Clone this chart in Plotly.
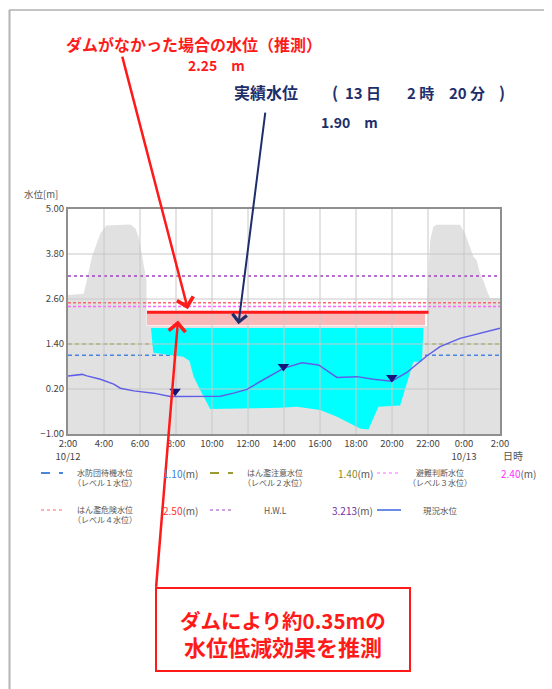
import plotly.graph_objects as go

OFF = 8  # browser body margin
W, H = 552 - OFF, 689 - OFF
ML, MT = 68 - OFF, 209 - OFF
PW, PH = 432, 225
MR = W - ML - PW
MB = H - MT - PH


def px(X):
    return (X - OFF - ML) / PW


def py(Y):
    return (H - MB - (Y - OFF)) / PH


FONT = "Noto Sans CJK JP"

# ---------------- data ----------------
x_ticks = [2, 4, 6, 8, 10, 12, 14, 16, 18, 20, 22, 24, 26]
x_tick_labels = ["2:00<br>10/12", "4:00", "6:00", "8:00", "10:00", "12:00", "14:00",
                 "16:00", "18:00", "20:00", "22:00", "0:00<br>10/13", "2:00"]
y_ticks = [-1.0, 0.2, 1.4, 2.6, 3.8, 5.0]

threshold_names = ["水防団待機水位", "はん濫注意水位", "避難判断水位", "はん濫危険水位", "H.W.L"]
threshold_sub = ["（レベル１水位）", "（レベル２水位）", "（レベル３水位）", "（レベル４水位）", ""]
threshold_values = [1.10, 1.40, 2.40, 2.50, 3.213]
threshold_labels = ["1.10", "1.40", "2.40", "2.50", "3.213"]

# current water level (hours from 10/12 0:00)
level_hours = [2.0, 2.31, 2.78, 3.05, 3.8, 4.54, 4.91, 5.65, 6.76, 7.68, 8.24, 8.61, 9.9,
               10.46, 11.2, 11.94, 12.68, 13.97, 14.99, 15.92, 16.94, 18.05, 18.97, 19.99,
               20.82, 21.93, 22.67, 23.78, 26.0]
level_values = [0.55, 0.56, 0.59, 0.55, 0.46, 0.33, 0.22, 0.15, 0.09, 0.0, 0.0, 0.01, 0.0,
                0.01, 0.09, 0.19, 0.40, 0.75, 0.90, 0.84, 0.51, 0.53, 0.46, 0.41,
                0.64, 1.08, 1.33, 1.55, 1.82]

marker_hours = [7.95, 13.97, 19.99]
marker_values = [0.14, 0.80, 0.51]

# grey background region
gray_hours = [2.0, 2.87, 3.05, 3.33, 3.8, 4.13, 5.46, 5.74, 5.92, 6.2, 6.36, 6.37, 21.95,
              21.95, 22.12, 22.3, 22.48, 23.78, 24.06, 24.52, 24.7, 24.89, 25.07, 25.26,
              25.45, 26.0, 26.0, 2.0, 2.0]
gray_values = [2.71, 2.74, 3.11, 3.73, 4.35, 4.56, 4.59, 4.49, 4.26, 3.55, 3.1, 1.88, 1.88,
               2.57, 4.17, 4.53, 4.58, 4.58, 4.35, 3.73, 3.64, 3.28, 3.1, 2.84,
               2.62, 2.62, -1.0, -1.0, 2.71]

# cyan region
cyan_hours = [6.61, 21.75, 21.66, 21.19, 20.45, 19.25, 18.69, 18.23, 17.68, 16.94, 16.01,
              14.72, 13.8, 9.9, 9.35, 8.98, 8.75, 8.4, 6.74, 6.61]
cyan_values = [1.83, 1.83, 0.93, 0.93, -0.24, -0.27, -0.88, -0.85, -0.72, -0.54, -0.36,
               -0.27, -0.30, -0.33, 0.17, 0.53, 0.95, 1.06, 1.17, 1.83]

band_hours = [6.39, 21.84]
red_line_hours = [6.39, 22.03]
estimated_level = 2.25
actual_level = 1.90

# ---------------- styles ----------------
th_colors = ["#4a84dc", "#9a9a30", "#ff66ff", "#ff6666", "#a040c0"]
th_value_colors = ["#3a7ee0", "#8a8a20", "#ff33ff", "#ff3333", "#7030a0"]
th_dash = ["4px,3px", "4px,3px", "3px,2px", "3px,2px", "3px,3px"]
LEVEL_COLOR = "#5f5fe6"

fig = go.Figure()

fig.add_trace(go.Scatter(x=gray_hours, y=gray_values, fill="toself", fillcolor="#e1e1e1",
                         mode="lines", line=dict(width=0), hoverinfo="skip"))

for v, c, d in zip(threshold_values, th_colors, th_dash):
    fig.add_trace(go.Scatter(x=[x_ticks[0], x_ticks[-1]], y=[v, v], mode="lines",
                             line=dict(color=c, width=1.5, dash=d), hoverinfo="skip"))

fig.add_trace(go.Scatter(x=cyan_hours, y=cyan_values, fill="toself", fillcolor="#00ffff",
                         mode="lines", line=dict(width=0), hoverinfo="skip"))

fig.add_trace(go.Scatter(x=[band_hours[0], band_hours[1], band_hours[1], band_hours[0], band_hours[0]],
                         y=[actual_level, actual_level, estimated_level, estimated_level, actual_level],
                         fill="toself", fillcolor="#f9b9b9", mode="lines", line=dict(width=0),
                         hoverinfo="skip"))

# gridlines drawn over the filled regions
gx, gy = [], []
for t in x_ticks[1:-1]:
    gx += [t, t, None]
    gy += [y_ticks[0], y_ticks[-1], None]
for v in y_ticks[1:-1]:
    gx += [x_ticks[0], x_ticks[-1], None]
    gy += [v, v, None]
fig.add_trace(go.Scatter(x=gx, y=gy, mode="lines", line=dict(color="#c8c8c8", width=1),
                         hoverinfo="skip"))

fig.add_trace(go.Scatter(x=red_line_hours, y=[estimated_level, estimated_level], mode="lines",
                         line=dict(color="#ff1a1a", width=3), hoverinfo="skip"))

fig.add_trace(go.Scatter(x=level_hours, y=level_values, mode="lines",
                         line=dict(color=LEVEL_COLOR, width=1.5), hoverinfo="skip"))

fig.add_trace(go.Scatter(x=marker_hours, y=marker_values, mode="markers",
                         marker=dict(symbol="triangle-down", size=10, color="#14147a"),
                         hoverinfo="skip"))

# ---------------- annotations ----------------
ann = []
shapes = []


def text(X, Y, s, size, color, anchor="center", bold=False):
    ann.append(dict(xref="paper", yref="paper", x=px(X), y=py(Y), xanchor=anchor, yanchor="middle",
                    text=("<b>%s</b>" % s) if bold else s, showarrow=False,
                    font=dict(family=FONT, size=size, color=color)))


text(22, 194.5, "水位[m]", 9.5, "#555", anchor="left")
text(513, 455, "日時", 10, "#555")

RED = "#ff1a1a"
NAVY = "#1e2e6b"
text(194, 43.5, "ダムがなかった場合の水位（推測）", 16, RED, bold=True)
text(216, 65, "%.2f　m" % estimated_level, 14, RED, bold=True)
text(232, 92, "実績水位", 16, NAVY, anchor="left", bold=True)
text(335, 92, "(", 16, NAVY, bold=True)
text(362.5, 92, "13 日", 15, NAVY, bold=True)
text(420, 92, "2 時", 15, NAVY, bold=True)
text(466.5, 92, "20 分", 15, NAVY, bold=True)
text(502, 92, ")", 16, NAVY, bold=True)
text(349.5, 121.5, "%.2f　m" % actual_level, 14, NAVY, bold=True)

# arrows
ann.append(dict(xref="x", yref="y", x=8.66, y=2.33, ax=-66, ay=-254, axref="pixel", ayref="pixel",
                text="", showarrow=True, arrowhead=4, arrowsize=1.3, arrowwidth=2.5, arrowcolor=RED,
                standoff=0, startstandoff=0))
ann.append(dict(xref="x", yref="y", x=11.47, y=1.93, ax=27, ay=-213, axref="pixel", ayref="pixel",
                text="", showarrow=True, arrowhead=4, arrowsize=1.4, arrowwidth=2, arrowcolor=NAVY,
                standoff=0, startstandoff=0))
ann.append(dict(xref="x", yref="y", x=8.11, y=2.03, ax=-22, ay=268, axref="pixel", ayref="pixel",
                text="", showarrow=True, arrowhead=4, arrowsize=1.3, arrowwidth=2.5, arrowcolor=RED,
                standoff=0, startstandoff=0))

# callout box
shapes.append(dict(type="rect", xref="paper", yref="paper", x0=px(156), x1=px(410), y0=py(671), y1=py(588),
                   line=dict(color=RED, width=2), fillcolor="white", layer="above"))
text(282.5, 633, 'ダムにより約0.35mの<br><span style="font-size:22px">水位低減効果を推測</span>',
     20.5, RED, bold=True)

# outer frame
shapes.append(dict(type="line", xref="paper", yref="paper", x0=px(9), x1=px(560), y0=py(10), y1=py(10),
                   line=dict(color="#c4c4c4", width=2)))
shapes.append(dict(type="line", xref="paper", yref="paper", x0=px(9.5), x1=px(9.5), y0=py(10), y1=py(700),
                   line=dict(color="#b4b4b4", width=2)))

# custom legend
sample_x = [(41, 63), (210, 233), (377, 401)]
label_cx = [105, 275, 440]
value_right = [200, 375, 538]
row_y = [473, 510]
legend_slots = [(0, 0), (1, 0), (2, 0), (0, 1), (1, 1)]
sample_dash = ["dash", "dash", "dot", "dot", "dot"]
sample_width = [2, 2, 1.2, 1.2, 1.2]
GRAY = "#555555"
for i, (c, r) in enumerate(legend_slots):
    yy = row_y[r]
    shapes.append(dict(type="line", xref="paper", yref="paper", x0=px(sample_x[c][0]), x1=px(sample_x[c][1]),
                       y0=py(yy), y1=py(yy), line=dict(color=th_colors[i], width=sample_width[i], dash=sample_dash[i])))
    if threshold_sub[i]:
        text(label_cx[c], yy + 4.8, threshold_names[i] + "<br>" + threshold_sub[i], 8, GRAY)
    else:
        text(label_cx[c], yy, threshold_names[i], 8.5, GRAY)
    ann.append(dict(xref="paper", yref="paper", x=px(value_right[c]), y=py(yy), xanchor="right", yanchor="middle",
                    text='<span style="color:%s">%s</span>(m)' % (th_value_colors[i], threshold_labels[i]),
                    showarrow=False, font=dict(family=FONT, size=10, color=GRAY)))
# current level legend entry
shapes.append(dict(type="line", xref="paper", yref="paper", x0=px(sample_x[2][0]), x1=px(sample_x[2][1]),
                   y0=py(row_y[1]), y1=py(row_y[1]), line=dict(color="#6a8ee8", width=2)))
text(label_cx[2], row_y[1], "現況水位", 8.5, GRAY)

fig.update_layout(
    width=W, height=H,
    margin=dict(l=ML, r=MR, t=MT, b=MB),
    paper_bgcolor="white", plot_bgcolor="white",
    showlegend=False,
    annotations=ann, shapes=shapes,
    xaxis=dict(range=[x_ticks[0], x_ticks[-1]], tickvals=x_ticks, ticktext=x_tick_labels,
               showgrid=False, zeroline=False, showline=True, mirror=True, linecolor="#8f8f8f",
               linewidth=2, ticks="", tickfont=dict(family=FONT, size=9.5, color="#444")),
    yaxis=dict(range=[y_ticks[0], y_ticks[-1]], tickvals=y_ticks, tickformat=".2f",
               showgrid=False, zeroline=False, showline=True, mirror=True, linecolor="#8f8f8f",
               linewidth=2, ticks="", tickfont=dict(family=FONT, size=9.5, color="#444")),
)

fig.write_html("out.html")
